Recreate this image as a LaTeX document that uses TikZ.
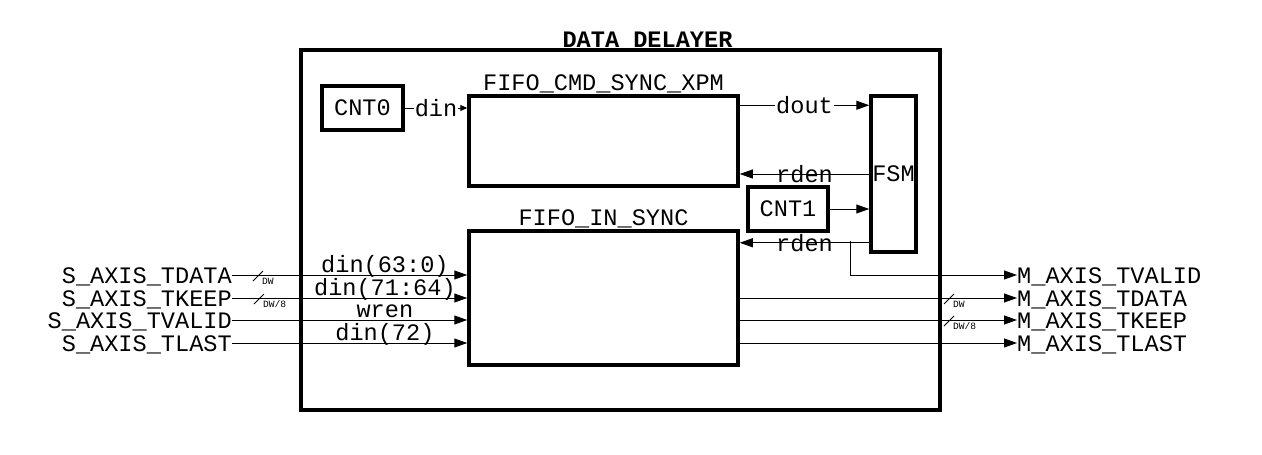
\documentclass[tikz,border=0pt]{standalone}
\usepackage{fontspec}
\setmonofont{Liberation Mono}
\usetikzlibrary{positioning}
\usetikzlibrary{arrows.meta}
\newcommand{\dlyfont}{\ttfamily\fontsize{23.6}{28}\selectfont}
\newcommand{\dwfont}{\ttfamily\fontsize{9.6}{11}\selectfont}
\tikzset{blk/.style = {draw, line width=3.5pt, inner sep=0, font=\dlyfont}}
\tikzset{wire/.style = {line width=1pt}}
\tikzset{sig/.style = {wire, -{Triangle[length=13pt,width=9pt]}}}
\tikzset{sigsmall/.style = {wire, -{Triangle[length=7pt,width=6pt]}}}
\tikzset{pin/.style = {font=\dlyfont, inner sep=0, text height=16pt, text depth=0pt}}
\tikzset{lbl/.style = {font=\dlyfont, inner sep=1pt}}
% bus width mark: x, y, name, text
\newcommand{\buswidth}[4]{
  \draw[wire] (#1-5,#2+5) -- (#1+5,#2-5);
  \node[font=\dwfont, anchor=west, inner sep=0] (#3) at (#1+4,#2+5) {#4};
}

\begin{document}
\begin{tikzpicture}[x=1pt, y=-1pt]

  \useasboundingbox (0,0) rectangle (1262,455);

  \node[blk, minimum width=639, minimum height=360] (dly) at (620.5,230) {};
  \node[font=\dlyfont\bfseries, anchor=base, inner sep=0] (ttl) at (647.5,47) {DATA\_DELAYER};

  \node[blk, minimum width=81,  minimum height=44]  (cnt0)   at (362.5,108) {CNT0};
  \node[blk, minimum width=269, minimum height=90]  (cmd)    at (603.5,141) {};
  \node[blk, minimum width=45,  minimum height=156] (fsm)    at (893.5,174) {FSM};
  \node[blk, minimum width=80,  minimum height=44]  (cnt1)   at (788,209)   {CNT1};
  \node[blk, minimum width=269, minimum height=134] (fifoin) at (603.5,298) {};

  \node[font=\dlyfont, anchor=base, inner sep=0] (cmdname) at ([yshift=4pt]cmd.north) {FIFO\_CMD\_SYNC\_XPM};
  \node[font=\dlyfont, anchor=base, inner sep=0] (inname)  at ([yshift=4pt]fifoin.north) {FIFO\_IN\_SYNC};

  % inside
  \draw[sigsmall] (cnt0.east) -- node[lbl, fill=white] {din} (cnt0.east -| cmd.west);
  \draw[sig] ([yshift=-11pt]cmd.north east) -- node[lbl, fill=white] {dout} ([yshift=-11pt]fsm.north west);
  \draw[sig] (fsm.west) -- node[lbl] {rden} (fsm.west -| cmd.east);
  \draw[sig] (cnt1.east) -- (cnt1.east -| fsm.west);
  \draw[sig] ([yshift=11pt]fsm.south west) -- node[lbl] {rden} ([yshift=11pt]fsm.south west -| fifoin.east);

  % inputs
  \node[pin, anchor=east] (sdata)  at (232,275) {S\_AXIS\_TDATA};
  \node[pin, anchor=east] (skeep)  at (232,298) {S\_AXIS\_TKEEP};
  \node[pin, anchor=east] (svalid) at (232,320) {S\_AXIS\_TVALID};
  \node[pin, anchor=east] (slast)  at (232,343) {S\_AXIS\_TLAST};

  \draw[sig] (sdata.east)  -- node[lbl, pos=0.65, anchor=base, yshift=3pt] {din(63:0)}  (sdata.east -| fifoin.west);
  \draw[sig] (skeep.east)  -- node[lbl, pos=0.65, anchor=base, yshift=3pt] {din(71:64)} (skeep.east -| fifoin.west);
  \draw[sig] (svalid.east) -- node[lbl, pos=0.65, anchor=base, yshift=3pt] {wren}       (svalid.east -| fifoin.west);
  \draw[sig] (slast.east)  -- node[lbl, pos=0.65, anchor=base, yshift=3pt] {din(72)}    (slast.east -| fifoin.west);

  \buswidth{258}{276}{sdw}{DW}
  \buswidth{259}{299}{skw}{DW/8}

  % outputs
  \node[pin, anchor=west] (mvalid) at (1017,275) {M\_AXIS\_TVALID};
  \node[pin, anchor=west] (mdata)  at (1017,298) {M\_AXIS\_TDATA};
  \node[pin, anchor=west] (mkeep)  at (1017,320) {M\_AXIS\_TKEEP};
  \node[pin, anchor=west] (mlast)  at (1017,343) {M\_AXIS\_TLAST};

  \coordinate (tap) at (850,241);
  \draw[sig] (tap) |- (mvalid.west);
  \draw[sig] (mdata.west -| fifoin.east) -- (mdata.west);
  \draw[sig] (mkeep.west -| fifoin.east) -- (mkeep.west);
  \draw[sig] (mlast.west -| fifoin.east) -- (mlast.west);

  \buswidth{949}{299}{mdw}{DW}
  \buswidth{949}{321}{mkw}{DW/8}

\end{tikzpicture}
\end{document}
